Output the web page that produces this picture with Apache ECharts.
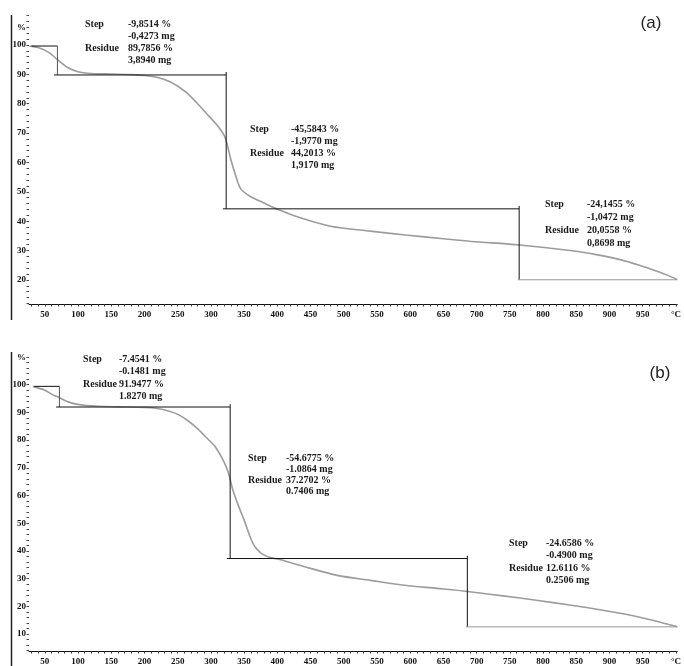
<!DOCTYPE html>
<html><head><meta charset="utf-8">
<script src="https://cdn.jsdelivr.net/npm/echarts@6/dist/echarts.min.js"></script>
<style>html,body{margin:0;padding:0;background:#fff}#c{width:684px;height:666px}</style>
</head><body><div id="c"></div>
<script>
// ---------- data ----------
// Panel (a) TGA curve
const tempA = [27, 40, 57, 70, 83, 100, 120, 150, 180, 200, 220, 240, 262, 280, 292, 310, 321, 330, 338, 345, 360, 380, 396, 430, 480, 540, 593, 650, 692, 765, 841, 880, 916, 945, 966, 985, 1002];
const massA = [99.6, 99.1, 97.3, 94.8, 92.5, 90.9, 90.3, 90.1, 89.9, 89.6, 88.9, 87.3, 84.0, 80.0, 77.0, 72.5, 68.7, 61.0, 55.0, 51.0, 48.3, 46.2, 44.5, 41.5, 38.3, 36.6, 35.3, 34.0, 33.1, 31.9, 30.0, 28.6, 26.9, 25.0, 23.4, 21.8, 20.1];
// Panel (a) step evaluation
const stepTempA = [69, 323, 764];
const stepPctA = [-9.8514, -45.5843, -24.1455];
const stepMgA = [-0.4273, -1.9770, -1.0472];
const residuePctA = [89.7856, 44.2013, 20.0558];
const residueMgA = [3.8940, 1.9170, 0.8698];

// Panel (b) TGA curve
const tempB = [32, 50, 60, 72, 85, 102, 130, 160, 200, 217, 235, 251, 266, 281, 295, 306, 318, 326, 333, 342, 351, 360, 366, 375, 381, 390, 405, 440, 490, 540, 592, 640, 686, 740, 790, 840, 890, 930, 965, 985, 1002];
const massB = [99.4, 98.0, 96.6, 95.3, 93.8, 92.8, 92.2, 92.0, 91.8, 91.5, 90.6, 89.2, 86.9, 83.9, 80.5, 77.8, 73.0, 68.5, 62.0, 56.0, 50.5, 44.5, 41.6, 39.3, 38.4, 37.6, 36.8, 34.4, 31.2, 29.4, 27.6, 26.5, 25.4, 23.8, 22.2, 20.5, 18.6, 16.9, 15.0, 13.7, 12.7];
// Panel (b) step evaluation
const stepTempB = [72, 329, 686];
const stepPctB = [-7.4541, -54.6775, -24.6586];
const stepMgB = [-0.1481, -1.0864, -0.4900];
const residuePctB = [91.9477, 37.2702, 12.6116];
const residueMgB = [1.8270, 0.7406, 0.2506];

// axis ticks
const xLabelValues = [50,100,150,200,250,300,350,400,450,500,550,600,650,700,750,800,850,900,950,1000];
const yLabelValuesA = [20,30,40,50,60,70,80,90,100];
const yLabelValuesB = [10,20,30,40,50,60,70,80,90,100];

// ---------- chart ----------
const X_MIN = 26.2, X_MAX = 1002;
const serif = 'Liberation Serif';
const ink = '#111';
const xTicks = []; for (let v = 30; v <= 1000; v += 10) xTicks.push(v);
const yTicksA = []; for (let v = 12; v <= 110; v += 2) yTicksA.push(v);
const yTicksB = []; for (let v = 4; v <= 110; v += 2) yTicksB.push(v);

function xAxisCfg(gi) {
  return {
    type: 'value', gridIndex: gi, min: X_MIN, max: X_MAX,
    axisLine: { show: true, lineStyle: { color: ink, width: 1 } },
    axisTick: { show: true, customValues: xTicks, length: 2.5, lineStyle: { color: '#333', width: 1 } },
    axisLabel: { customValues: xLabelValues, formatter: v => v === 1000 ? '°C' : String(v),
      fontFamily: serif, fontWeight: 'bold', fontSize: 9, color: ink, margin: 6, showMaxLabel: true },
    splitLine: { show: false }
  };
}
function yAxisCfg(gi, min, max, labels, ticks) {
  return {
    type: 'value', gridIndex: gi, min, max,
    axisLine: { show: false },
    axisTick: { show: true, customValues: ticks, length: 2.5, lineStyle: { color: '#444', width: 1 } },
    axisLabel: { customValues: labels, fontFamily: serif, fontWeight: 'bold', fontSize: 9, color: ink, margin: 3 },
    splitLine: { show: false }
  };
}

function stepSeries(xi, temps, residues, stepPcts, xStart, xEnd) {
  const levels = [residues[0] - stepPcts[0]].concat(residues);
  const segs = [];
  const oh = 5, up = 1;
  // first horizontal
  segs.push({ d: [[xStart, levels[0]], [temps[0], levels[0]]], c: ink });
  for (let i = 0; i < temps.length; i++) {
    segs.push({ d: [[temps[i], levels[i] + (i ? up : 0)], [temps[i], levels[i + 1]]], c: i === 0 ? '#555' : ink });
    if (i < temps.length - 1) {
      segs.push({ d: [[temps[i] - oh, levels[i + 1]], [temps[i + 1], levels[i + 1]]], c: ink });
    } else {
      segs.push({ d: [[temps[i] - 2, levels[i + 1]], [xEnd, levels[i + 1]]], c: '#9a9a9a' });
    }
  }
  return segs.map(s => ({
    type: 'line', xAxisIndex: xi, yAxisIndex: xi, data: s.d, symbol: 'none', silent: true,
    lineStyle: { color: s.c, width: 1 }, z: 3, animation: false
  }));
}

function curveSeries(xi, t, m) {
  return {
    type: 'line', xAxisIndex: xi, yAxisIndex: xi, data: t.map((v, i) => [v, m[i]]),
    symbol: 'none', smooth: 0.3, lineStyle: { color: '#9c9c9c', width: 1.6 }, z: 2, animation: false
  };
}

function fmt(v, unit, comma) {
  let s = v.toFixed(4);
  if (comma) s = s.replace('.', ',');
  return s + ' ' + unit;
}
function annot(x1, x2, y0, lh, i, sp, sm, rp, rm, comma, size) {
  const font = 'bold ' + size + 'px "' + serif + '"';
  const t = (text, x, y) => ({ type: 'text', x, y, silent: true,
    style: { text, fill: '#1a1a1a', font, align: 'left', verticalAlign: 'middle' } });
  return [
    t('Step', x1, y0), t('Residue', x1, y0 + 2 * lh),
    t(fmt(sp[i], '%', comma), x2, y0), t(fmt(sm[i], 'mg', comma), x2, y0 + lh),
    t(fmt(rp[i], '%', comma), x2, y0 + 2 * lh), t(fmt(rm[i], 'mg', comma), x2, y0 + 3 * lh)
  ];
}

const graphics = [
  { type: 'line', shape: { x1: 11.5, y1: 15, x2: 11.5, y2: 320 }, style: { stroke: '#222', lineWidth: 1.5 } },
  { type: 'line', shape: { x1: 11.5, y1: 352, x2: 11.5, y2: 666 }, style: { stroke: '#222', lineWidth: 1.5 } },
  { type: 'text', x: 17, y: 28, style: { text: '%', font: 'bold 9px "' + serif + '"', fill: ink, align: 'left', verticalAlign: 'middle' } },
  { type: 'text', x: 17, y: 358, style: { text: '%', font: 'bold 9px "' + serif + '"', fill: ink, align: 'left', verticalAlign: 'middle' } },
  { type: 'text', x: 651, y: 23, style: { text: '(a)', font: '17px "Liberation Sans"', fill: '#222', align: 'center', verticalAlign: 'middle' } },
  { type: 'text', x: 660, y: 373, style: { text: '(b)', font: '17px "Liberation Sans"', fill: '#222', align: 'center', verticalAlign: 'middle' } }
]
.concat(annot(85, 128, 24, 12.3, 0, stepPctA, stepMgA, residuePctA, residueMgA, true, 10))
.concat(annot(250, 291, 129, 12.3, 1, stepPctA, stepMgA, residuePctA, residueMgA, true, 10))
.concat(annot(545, 587, 204, 13, 2, stepPctA, stepMgA, residuePctA, residueMgA, true, 10))
.concat(annot(83, 119, 359, 12.5, 0, stepPctB, stepMgB, residuePctB, residueMgB, false, 10))
.concat(annot(248, 286, 458, 11, 1, stepPctB, stepMgB, residuePctB, residueMgB, false, 10))
.concat(annot(509, 546, 543, 12.5, 2, stepPctB, stepMgB, residuePctB, residueMgB, false, 10));

const option = {
  backgroundColor: '#fff',
  animation: false,
  grid: [
    { left: 29, right: 0, top: 15, bottom: 362, containLabel: false },
    { left: 29, right: 0, top: 352, bottom: 13, containLabel: false }
  ],
  xAxis: [xAxisCfg(0), xAxisCfg(1)],
  yAxis: [
    yAxisCfg(0, 11.8, 110.2, yLabelValuesA, yTicksA),
    yAxisCfg(1, 3.9, 111.8, yLabelValuesB, yTicksB)
  ],
  series: [
    curveSeries(0, tempA, massA),
    curveSeries(1, tempB, massB)
  ].concat(stepSeries(0, stepTempA, residuePctA, stepPctA, 30, X_MAX))
   .concat(stepSeries(1, stepTempB, residuePctB, stepPctB, 34, X_MAX)),
  graphic: graphics
};
const chart = echarts.init(document.getElementById('c'));
chart.setOption(option);
</script>
</body></html>
